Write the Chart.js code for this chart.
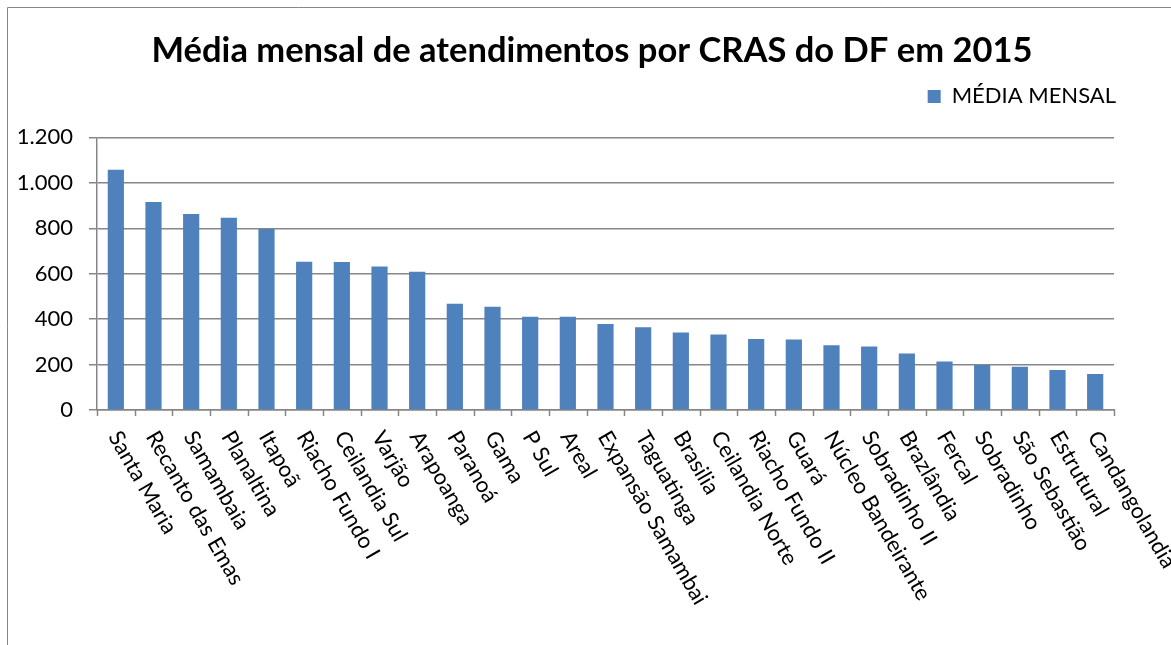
<!DOCTYPE html>
<html>
<head>
<meta charset="utf-8">
<script src="https://cdn.jsdelivr.net/npm/chart.js@4/dist/chart.umd.min.js"></script>
<style>
  html, body { margin: 0; padding: 0; background: #fff; }
  canvas { display: block; }
</style>
</head>
<body>
<canvas id="crasChart" width="1171" height="645"></canvas>
<script>
// CRAS do DF - media mensal de atendimentos (2015)
const cras = [
  "Santa Maria", "Recanto das Emas", "Samambaia", "Planaltina", "Itapoã",
  "Riacho Fundo I", "Ceilandia Sul", "Varjão", "Arapoanga", "Paranoá",
  "Gama", "P Sul", "Areal", "Expansão Samambai", "Taguatinga",
  "Brasilia", "Ceilandia Norte", "Riacho Fundo II", "Guará", "Núcleo Bandeirante",
  "Sobradinho II", "Brazlândia", "Fercal", "Sobradinho", "São Sebastião",
  "Estrutural", "Candangolandia"
];
const mediaMensal = [
  1058, 916, 863, 846, 797,
  653, 651, 632, 609, 468,
  455, 411, 411, 379, 364,
  341, 332, 313, 310, 285,
  279, 249, 214, 198, 190,
  176, 159
];
const yTicks = [0, 200, 400, 600, 800, 1000, 1200];

const fontFamily = "Lato, 'Open Sans', sans-serif";
const axisGray = '#868686';
const barBlue = '#4f81bd';

// bordas, marcas do eixo x e rotulos girados (como no Excel)
const excelLook = {
  id: 'excelLook',
  afterInit(chart) {
    // espaco extra entre a legenda e o grafico
    const legend = chart.legend;
    const fit = legend.fit;
    legend.fit = function () {
      fit.call(this);
      this.height += 20;
    };
  },
  afterLayout(chart) {
    // titulo e legenda um pouco deslocados para a direita, como no original
    chart.titleBlock.left += 31;
    chart.titleBlock.right += 31;
    chart.legend.left += 10;
    chart.legend.right += 10;
  },
  beforeDraw(chart) {
    const ctx = chart.ctx;
    ctx.save();
    ctx.strokeStyle = axisGray;
    ctx.lineWidth = 1;
    ctx.beginPath();
    ctx.moveTo(7.5, 645);
    ctx.lineTo(7.5, 7.5);
    ctx.lineTo(1171, 7.5);
    ctx.stroke();
    ctx.restore();
  },
  afterDraw(chart) {
    const ctx = chart.ctx;
    const x = chart.scales.x;
    const bottom = chart.chartArea.bottom;
    ctx.save();
    // marcas entre categorias
    ctx.strokeStyle = axisGray;
    ctx.lineWidth = 1.5;
    const half = (x.getPixelForValue(1) - x.getPixelForValue(0)) / 2;
    ctx.beginPath();
    for (let i = 0; i <= cras.length; i++) {
      const px = Math.round(x.getPixelForValue(i) - half) + 0.5;
      ctx.moveTo(px, bottom);
      ctx.lineTo(px, bottom + 6);
    }
    ctx.stroke();
    // rotulos
    ctx.fillStyle = '#000';
    ctx.font = "22px " + fontFamily;
    ctx.textAlign = 'left';
    ctx.textBaseline = 'middle';
    cras.forEach((name, i) => {
      ctx.save();
      ctx.translate(x.getPixelForValue(i) - 2, bottom + 23);
      ctx.rotate(Math.PI / 3);
      ctx.fillText(name, 0, 0);
      ctx.restore();
    });
    ctx.restore();
  }
};

const ctx = document.getElementById('crasChart').getContext('2d');
new Chart(ctx, {
  type: 'bar',
  data: {
    labels: cras,
    datasets: [{
      label: 'MÉDIA MENSAL',
      data: mediaMensal,
      backgroundColor: barBlue,
      borderWidth: 0,
      barPercentage: 0.43,
      categoryPercentage: 1.0
    }]
  },
  options: {
    responsive: false,
    animation: false,
    devicePixelRatio: 1,
    layout: { padding: { left: 8, right: 57, top: 0, bottom: 227 } },
    plugins: {
      title: {
        display: true,
        text: 'Média mensal de atendimentos por CRAS do DF em 2015',
        color: '#000',
        font: { family: fontFamily, size: 34.5, weight: 'bold' },
        padding: { top: 30, bottom: 6 }
      },
      legend: {
        display: true,
        align: 'end',
        labels: {
          color: '#000',
          font: { family: fontFamily, size: 22 },
          boxWidth: 13,
          boxHeight: 13,
          padding: 8
        }
      },
      tooltip: { enabled: false }
    },
    scales: {
      x: {
        ticks: { display: false },
        grid: { display: false },
        border: { display: true, color: axisGray, width: 1.5 }
      },
      y: {
        min: 0,
        max: 1200,
        afterBuildTicks(scale) {
          scale.ticks = yTicks.map(v => ({ value: v }));
        },
        afterFit(scale) {
          scale.width = 89;
        },
        ticks: {
          color: '#000',
          padding: 16,
          font: { family: fontFamily, size: 22 },
          callback: v => v.toLocaleString('pt-BR')
        },
        grid: {
          color: axisGray,
          lineWidth: 1.5,
          tickLength: 8,
          drawTicks: true
        },
        border: { display: true, color: axisGray, width: 1.5 }
      }
    }
  },
  plugins: [excelLook]
});
</script>
</body>
</html>
